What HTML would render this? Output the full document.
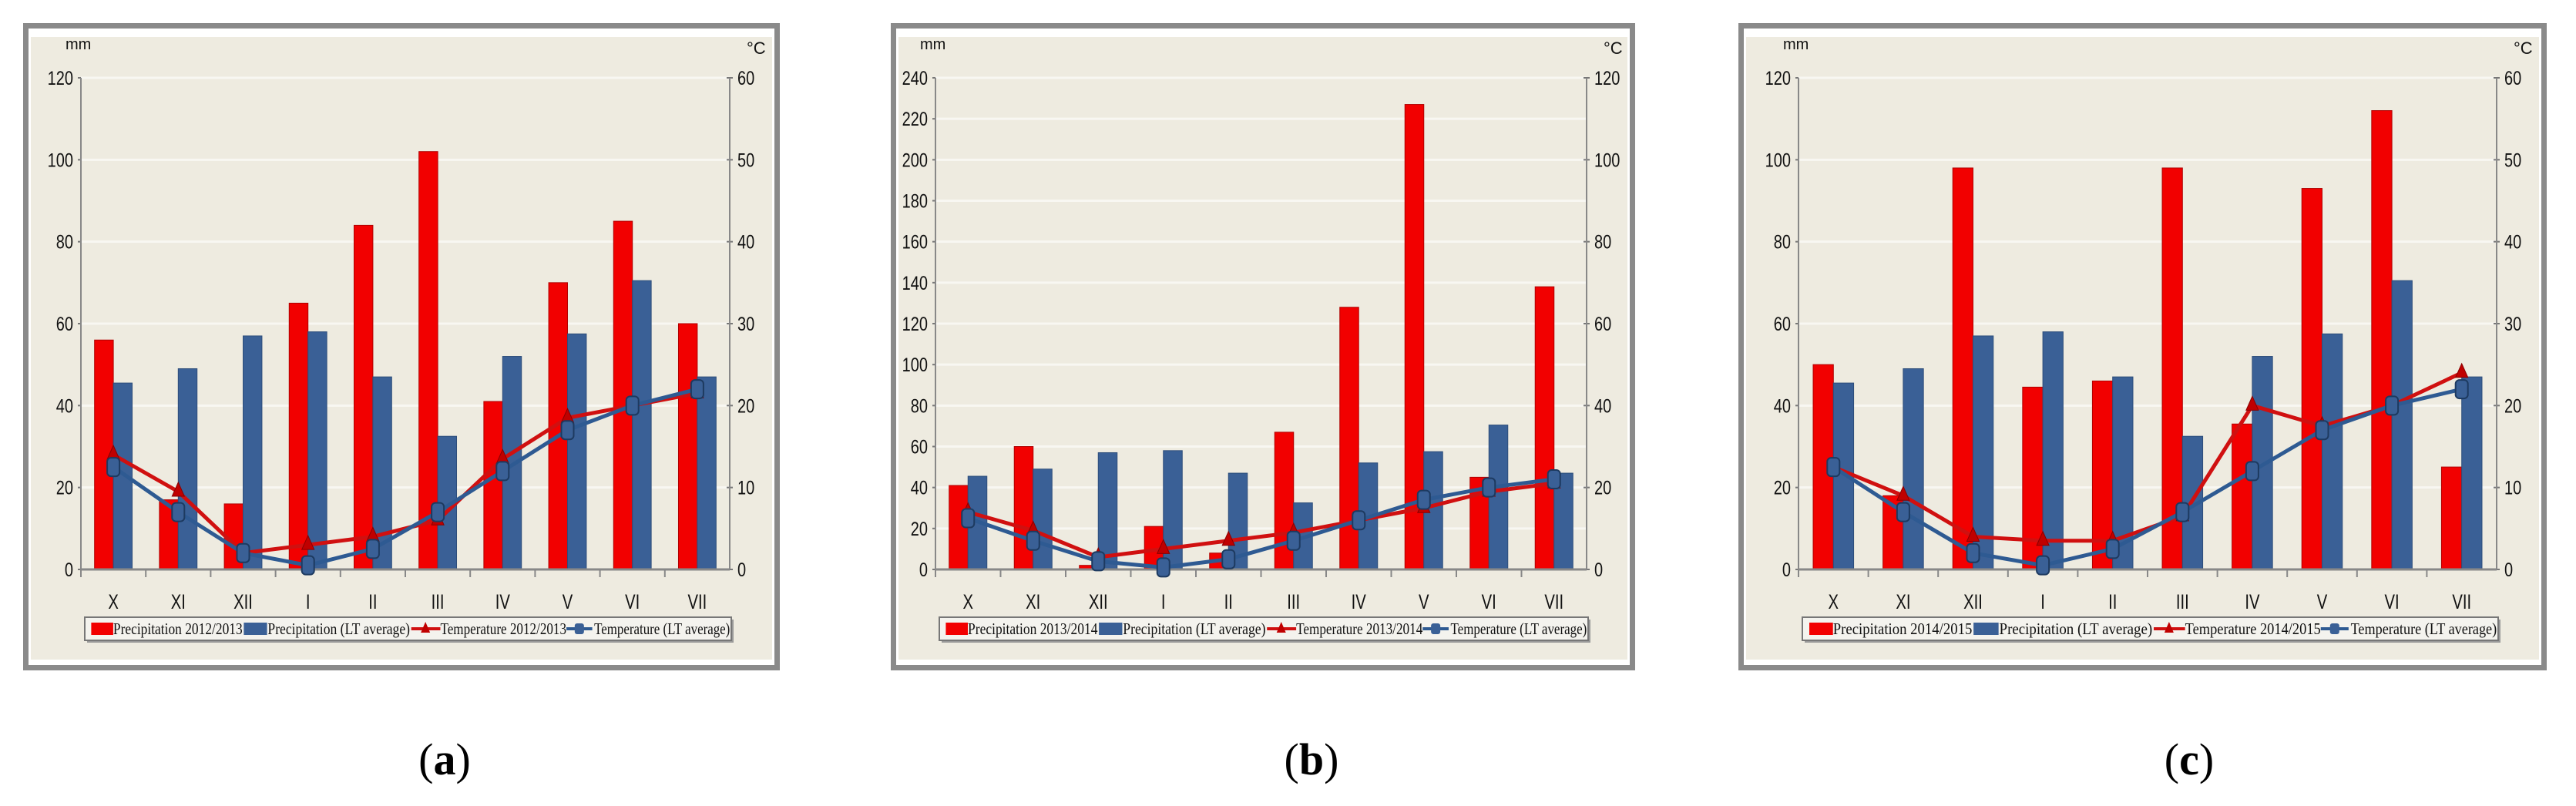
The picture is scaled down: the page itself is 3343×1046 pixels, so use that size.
<!DOCTYPE html>
<html><head><meta charset="utf-8"><style>
html,body{margin:0;padding:0;background:#fff;width:3343px;height:1046px;overflow:hidden}
svg{display:block}
text{font-family:"Liberation Sans",sans-serif}
</style></head><body>
<svg id="chart" width="3343" height="1046" viewBox="0 0 3343 1046" xmlns="http://www.w3.org/2000/svg"></svg>
<script>
const months = ["X","XI","XII","I","II","III","IV","V","VI","VII"];
const precipLT = [45.5,49,57,58,47,32.5,52,57.5,70.5,47];
const tempLT = [12.5,7,2,0.5,2.5,7,12,17,20,22];
const precipA = [56,17,16,65,84,102,41,70,85,60];
const tempA = [14,9.5,2,3,4,6,13.5,18.5,20,21.5];
const precipB = [41,60,2,21,8,67,128,227,45,138];
const tempB = [14,9.5,3,5,7,9,12,15,19,21];
const precipC = [50,18,98,44.5,46,98,35.5,93,112,25];
const tempC = [12.5,9,4,3.5,3.5,6.5,20,17.5,20,24];
const ticksLeftA = [0,20,40,60,80,100,120];
const ticksRightA = [0,10,20,30,40,50,60];
const ticksLeftB = [0,20,40,60,80,100,120,140,160,180,200,220,240];
const ticksRightB = [0,20,40,60,80,100,120];
const yearA = "2012/2013", yearB = "2013/2014", yearC = "2014/2015";

const NS = "http://www.w3.org/2000/svg";
const svg = document.getElementById("chart");
function mk(tag, attrs, parent, txt){
  const e = document.createElementNS(NS, tag);
  for (const k in attrs) e.setAttribute(k, attrs[k]);
  if (txt !== undefined) e.textContent = txt;
  (parent || svg).appendChild(e);
  return e;
}
const SERIF = "font-family:'Liberation Serif',serif";

function panel(key, fx0, fx1, ax0, ax1, precip, temp, tl, tr, year, label, labelX){
  const g = mk("g", {});
  
  
  const fy0 = 30, fy1 = 870;
  const frame = mk("rect", {x:fx0+3.5, y:fy0+3.5, width:fx1-fx0-7, height:fy1-fy0-7, fill:"#fff", stroke:"#8a8a8a", "stroke-width":7}, g);
  
  
  mk("rect", {x:fx0+10, y:fy0+18, width:fx1-fx0-20, height:fy1-fy0-32, fill:"#EEEBE0"}, g);
  const yTop = 101, y0 = 739;
  const lmax = tl[tl.length-1], rmax = tr[tr.length-1];
  const yL = v => y0 - (v / lmax) * (y0 - yTop);
  const yR = v => y0 - (v / rmax) * (y0 - yTop);
  const cw = (ax1 - ax0) / months.length;
  const xc = i => ax0 + cw * (i + 0.5);
  tl.forEach((t) => {
    const gl = mk("line", {x1:ax0, x2:ax1, y1:yL(t), y2:yL(t), stroke:"#f8f7f2", "stroke-width":3}, g);
    
    
    const tx = mk("text", {x:ax0-10, y:yL(t)+9, "font-size":25, "text-anchor":"end", fill:"#111", transform:`translate(${ax0-10} 0) scale(0.8 1) translate(${-(ax0-10)} 0)`}, g, String(t));
    
    
    mk("line", {x1:ax0-4, x2:ax0, y1:yL(t), y2:yL(t), stroke:"#777", "stroke-width":2}, g);
  });
  tr.forEach((t) => {
    const tx = mk("text", {x:ax1+10, y:yR(t)+9, "font-size":25, "text-anchor":"start", fill:"#111", transform:`translate(${ax1+10} 0) scale(0.8 1) translate(${-(ax1+10)} 0)`}, g, String(t));
    
    
    mk("line", {x1:ax1-4, x2:ax1+4, y1:yR(t), y2:yR(t), stroke:"#777", "stroke-width":2}, g);
  });
  const l1 = mk("line", {x1:ax0, x2:ax0, y1:yTop, y2:y0, stroke:"#888", "stroke-width":2}, g);
  
  
  const l2 = mk("line", {x1:ax1, x2:ax1, y1:yTop, y2:y0, stroke:"#888", "stroke-width":2}, g);
  
  
  const mm = mk("text", {x:ax0-20, y:64, "font-size":20, fill:"#111"}, g, "mm");
  
  
  const dc = mk("text", {x:ax1+22, y:70, "font-size":22, fill:"#111"}, g, "°C");
  
  
  const bw = cw * 0.29;
  months.forEach((m, i) => {
    const r = mk("rect", {x:xc(i)-bw, y:yL(precip[i]), width:bw, height:y0-yL(precip[i]), fill:"#F20000", stroke:"#B00000", "stroke-width":1}, g);
    
    
    const b = mk("rect", {x:xc(i), y:yL(precipLT[i]), width:bw, height:y0-yL(precipLT[i]), fill:"#3A6096", stroke:"#2d4d7a", "stroke-width":1}, g);
    
    
  });
  const xa = mk("line", {x1:ax0, x2:ax1, y1:y0, y2:y0, stroke:"#888", "stroke-width":3}, g);
  
  
  months.forEach((m, i) => {
    mk("line", {x1:ax0+cw*i, x2:ax0+cw*i, y1:y0, y2:y0+10, stroke:"#888", "stroke-width":2}, g);
    const t = mk("text", {x:xc(i), y:790, "font-size":27, "text-anchor":"middle", fill:"#111", transform:`translate(${xc(i)} 0) scale(0.75 1) translate(${-xc(i)} 0)`}, g, m);
    
    
  });
  const ptsT = temp.map((v,i) => `${xc(i)},${yR(v)}`).join(" ");
  const ptsLT = tempLT.map((v,i) => `${xc(i)},${yR(v)}`).join(" ");
  const pl1 = mk("polyline", {points:ptsT, fill:"none", stroke:"#D01010", "stroke-width":5}, g);
  
  
  const pl2 = mk("polyline", {points:ptsLT, fill:"none", stroke:"#2E5A92", "stroke-width":5}, g);
  
  
  temp.forEach((v,i) => {
    const x = xc(i), y = yR(v);
    const tri = mk("polygon", {points:`${x},${y-12} ${x-8},${y+6} ${x+8},${y+6}`, fill:"#C00000", stroke:"#800", "stroke-width":1}, g);
    
    
  });
  tempLT.forEach((v,i) => {
    const x = xc(i), y = yR(v);
    const sq = mk("rect", {x:x-8, y:y-12, width:16, height:24, rx:5, fill:"#3A6096", stroke:"#1d3a60", "stroke-width":2}, g);
    
    
  });
  const lx0 = ax0 + 5, lx1 = ax1 + 2, lw = lx1 - lx0, ly = 801, lh = 30;
  const lg = mk("g", {}, g);
  
  
  mk("rect", {x:lx0+3, y:ly+3, width:lw, height:lh, fill:"#999"}, lg);
  mk("rect", {x:lx0, y:ly, width:lw, height:lh, fill:"#f4f3ee", stroke:"#777", "stroke-width":2}, lg);
  const f = p => lx0 + lw * p;
  const ty = ly + 22;
  mk("rect", {x:f(0.01), y:ly+7, width:lw*0.034, height:16, fill:"#F20000"}, lg);
  mk("rect", {x:f(0.246), y:ly+7, width:lw*0.036, height:16, fill:"#3A6096"}, lg);
  mk("line", {x1:f(0.505), x2:f(0.55), y1:ly+15, y2:ly+15, stroke:"#D01010", "stroke-width":4}, lg);
  mk("polygon", {points:`${f(0.527)},${ly+6} ${f(0.527)-6},${ly+20} ${f(0.527)+6},${ly+20}`, fill:"#C00000"}, lg);
  mk("line", {x1:f(0.745), x2:f(0.785), y1:ly+15, y2:ly+15, stroke:"#2E5A92", "stroke-width":4}, lg);
  mk("rect", {x:f(0.765)-6, y:ly+8, width:12, height:14, rx:3, fill:"#3A6096"}, lg);
  const labels = [["Precipitation " + year, 0.044, 0.2], ["Precipitation (LT average)", 0.283, 0.22], ["Temperature " + year, 0.55, 0.195], ["Temperature (LT average)", 0.788, 0.21]];
  labels.forEach(([s, p, w]) => {
    const t = mk("text", {x:f(p), y:ty, "font-size":21, style:SERIF, fill:"#111", textLength:lw*w, lengthAdjust:"spacingAndGlyphs"}, lg, s);
    
    
  });
  const cap = mk("text", {x:labelX, y:1005, "font-size":58, "text-anchor":"middle", style:SERIF, fill:"#000"}, svg);
  
  
  mk("tspan", {}, cap, "(");
  mk("tspan", {"font-weight":"bold"}, cap, label);
  mk("tspan", {}, cap, ")");
}

panel("a", 30, 1012, 105, 947, precipA, tempA, ticksLeftA, ticksRightA, yearA, "a", 577);
panel("b", 1156, 2122, 1214, 2059, precipB, tempB, ticksLeftB, ticksRightB, yearB, "b", 1702);
panel("c", 2256, 3305, 2334, 3240, precipC, tempC, ticksLeftA, ticksRightA, yearC, "c", 2841);
</script>
</body></html>
